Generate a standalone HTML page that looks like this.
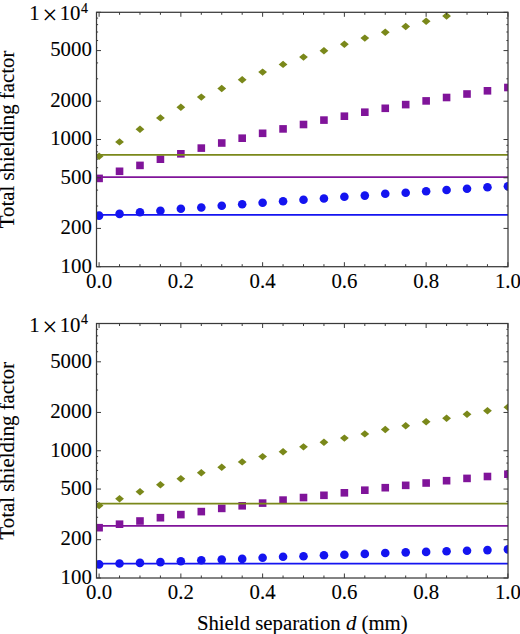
<!DOCTYPE html>
<html><head><meta charset="utf-8"><style>
html,body{margin:0;padding:0;background:#fff;overflow:hidden;width:520px;height:634px;}
svg{display:block;}
.t{font-family:"Liberation Serif",serif;font-size:20.8px;fill:#000;stroke:#000;stroke-width:0.1px;}
.sup{font-family:"Liberation Serif",serif;font-size:13.8px;fill:#000;stroke:#000;stroke-width:0.2px;}
</style></head><body>
<svg width="520" height="634" viewBox="0 0 520 634">
<rect width="520" height="634" fill="#fff"/>
<clipPath id="clip0"><rect x="96.5" y="12.3" width="411.5" height="254.39999999999998"/></clipPath>
<g clip-path="url(#clip0)">
<path d="M94.70 156.30L99.10 152.60L103.50 156.30L99.10 160.00Z" fill="#7a881a"/>
<path d="M115.14 141.90L119.54 138.20L123.94 141.90L119.54 145.60Z" fill="#7a881a"/>
<path d="M135.58 129.20L139.98 125.50L144.38 129.20L139.98 132.90Z" fill="#7a881a"/>
<path d="M156.02 117.90L160.42 114.20L164.82 117.90L160.42 121.60Z" fill="#7a881a"/>
<path d="M176.46 107.20L180.86 103.50L185.26 107.20L180.86 110.90Z" fill="#7a881a"/>
<path d="M196.90 97.10L201.30 93.40L205.70 97.10L201.30 100.80Z" fill="#7a881a"/>
<path d="M217.34 88.50L221.74 84.80L226.14 88.50L221.74 92.20Z" fill="#7a881a"/>
<path d="M237.78 79.80L242.18 76.10L246.58 79.80L242.18 83.50Z" fill="#7a881a"/>
<path d="M258.22 72.10L262.62 68.40L267.02 72.10L262.62 75.80Z" fill="#7a881a"/>
<path d="M278.66 64.40L283.06 60.70L287.46 64.40L283.06 68.10Z" fill="#7a881a"/>
<path d="M299.10 57.10L303.50 53.40L307.90 57.10L303.50 60.80Z" fill="#7a881a"/>
<path d="M319.54 50.80L323.94 47.10L328.34 50.80L323.94 54.50Z" fill="#7a881a"/>
<path d="M339.98 44.20L344.38 40.50L348.78 44.20L344.38 47.90Z" fill="#7a881a"/>
<path d="M360.42 38.10L364.82 34.40L369.22 38.10L364.82 41.80Z" fill="#7a881a"/>
<path d="M380.86 32.30L385.26 28.60L389.66 32.30L385.26 36.00Z" fill="#7a881a"/>
<path d="M401.30 26.50L405.70 22.80L410.10 26.50L405.70 30.20Z" fill="#7a881a"/>
<path d="M421.74 21.30L426.14 17.60L430.54 21.30L426.14 25.00Z" fill="#7a881a"/>
<path d="M442.18 16.00L446.58 12.30L450.98 16.00L446.58 19.70Z" fill="#7a881a"/>
<path d="M462.62 9.00L467.02 5.30L471.42 9.00L467.02 12.70Z" fill="#7a881a"/>
<path d="M483.06 4.00L487.46 0.30L491.86 4.00L487.46 7.70Z" fill="#7a881a"/>
<path d="M503.50 0.00L507.90 -3.70L512.30 0.00L507.90 3.70Z" fill="#7a881a"/>
<rect x="95.30" y="174.60" width="7.6" height="7.6" fill="#80149a"/>
<rect x="115.74" y="167.50" width="7.6" height="7.6" fill="#80149a"/>
<rect x="136.18" y="161.60" width="7.6" height="7.6" fill="#80149a"/>
<rect x="156.62" y="155.40" width="7.6" height="7.6" fill="#80149a"/>
<rect x="177.06" y="150.00" width="7.6" height="7.6" fill="#80149a"/>
<rect x="197.50" y="144.30" width="7.6" height="7.6" fill="#80149a"/>
<rect x="217.94" y="139.20" width="7.6" height="7.6" fill="#80149a"/>
<rect x="238.38" y="134.40" width="7.6" height="7.6" fill="#80149a"/>
<rect x="258.82" y="129.50" width="7.6" height="7.6" fill="#80149a"/>
<rect x="279.26" y="125.10" width="7.6" height="7.6" fill="#80149a"/>
<rect x="299.70" y="120.70" width="7.6" height="7.6" fill="#80149a"/>
<rect x="320.14" y="116.30" width="7.6" height="7.6" fill="#80149a"/>
<rect x="340.58" y="112.40" width="7.6" height="7.6" fill="#80149a"/>
<rect x="361.02" y="108.40" width="7.6" height="7.6" fill="#80149a"/>
<rect x="381.46" y="104.50" width="7.6" height="7.6" fill="#80149a"/>
<rect x="401.90" y="100.80" width="7.6" height="7.6" fill="#80149a"/>
<rect x="422.34" y="97.10" width="7.6" height="7.6" fill="#80149a"/>
<rect x="442.78" y="93.70" width="7.6" height="7.6" fill="#80149a"/>
<rect x="463.22" y="90.20" width="7.6" height="7.6" fill="#80149a"/>
<rect x="483.66" y="87.00" width="7.6" height="7.6" fill="#80149a"/>
<rect x="504.10" y="83.70" width="7.6" height="7.6" fill="#80149a"/>
<circle cx="99.10" cy="215.60" r="4.3" fill="#1414f0"/>
<circle cx="119.54" cy="213.90" r="4.3" fill="#1414f0"/>
<circle cx="139.98" cy="212.30" r="4.3" fill="#1414f0"/>
<circle cx="160.42" cy="210.80" r="4.3" fill="#1414f0"/>
<circle cx="180.86" cy="208.80" r="4.3" fill="#1414f0"/>
<circle cx="201.30" cy="207.50" r="4.3" fill="#1414f0"/>
<circle cx="221.74" cy="205.80" r="4.3" fill="#1414f0"/>
<circle cx="242.18" cy="204.20" r="4.3" fill="#1414f0"/>
<circle cx="262.62" cy="202.70" r="4.3" fill="#1414f0"/>
<circle cx="283.06" cy="201.30" r="4.3" fill="#1414f0"/>
<circle cx="303.50" cy="199.80" r="4.3" fill="#1414f0"/>
<circle cx="323.94" cy="198.50" r="4.3" fill="#1414f0"/>
<circle cx="344.38" cy="196.70" r="4.3" fill="#1414f0"/>
<circle cx="364.82" cy="195.60" r="4.3" fill="#1414f0"/>
<circle cx="385.26" cy="193.80" r="4.3" fill="#1414f0"/>
<circle cx="405.70" cy="192.70" r="4.3" fill="#1414f0"/>
<circle cx="426.14" cy="191.30" r="4.3" fill="#1414f0"/>
<circle cx="446.58" cy="190.00" r="4.3" fill="#1414f0"/>
<circle cx="467.02" cy="188.70" r="4.3" fill="#1414f0"/>
<circle cx="487.46" cy="187.30" r="4.3" fill="#1414f0"/>
<circle cx="507.90" cy="186.30" r="4.3" fill="#1414f0"/>
<line x1="96.5" x2="508.0" y1="154.9" y2="154.9" stroke="#7a881a" stroke-width="1.75"/>
<line x1="96.5" x2="508.0" y1="177.0" y2="177.0" stroke="#80149a" stroke-width="1.75"/>
<line x1="96.5" x2="508.0" y1="214.9" y2="214.9" stroke="#1414f0" stroke-width="1.75"/>
</g>
<rect x="96.5" y="12.3" width="411.5" height="254.39999999999998" fill="none" stroke="#3a3a3a" stroke-width="1.25"/>
<line x1="99.10" x2="99.10" y1="266.7" y2="262.2" stroke="#3a3a3a" stroke-width="1"/>
<line x1="99.10" x2="99.10" y1="12.3" y2="16.8" stroke="#3a3a3a" stroke-width="1"/>
<line x1="119.54" x2="119.54" y1="266.7" y2="264.2" stroke="#3a3a3a" stroke-width="1"/>
<line x1="119.54" x2="119.54" y1="12.3" y2="14.8" stroke="#3a3a3a" stroke-width="1"/>
<line x1="139.98" x2="139.98" y1="266.7" y2="264.2" stroke="#3a3a3a" stroke-width="1"/>
<line x1="139.98" x2="139.98" y1="12.3" y2="14.8" stroke="#3a3a3a" stroke-width="1"/>
<line x1="160.42" x2="160.42" y1="266.7" y2="264.2" stroke="#3a3a3a" stroke-width="1"/>
<line x1="160.42" x2="160.42" y1="12.3" y2="14.8" stroke="#3a3a3a" stroke-width="1"/>
<line x1="180.86" x2="180.86" y1="266.7" y2="262.2" stroke="#3a3a3a" stroke-width="1"/>
<line x1="180.86" x2="180.86" y1="12.3" y2="16.8" stroke="#3a3a3a" stroke-width="1"/>
<line x1="201.30" x2="201.30" y1="266.7" y2="264.2" stroke="#3a3a3a" stroke-width="1"/>
<line x1="201.30" x2="201.30" y1="12.3" y2="14.8" stroke="#3a3a3a" stroke-width="1"/>
<line x1="221.74" x2="221.74" y1="266.7" y2="264.2" stroke="#3a3a3a" stroke-width="1"/>
<line x1="221.74" x2="221.74" y1="12.3" y2="14.8" stroke="#3a3a3a" stroke-width="1"/>
<line x1="242.18" x2="242.18" y1="266.7" y2="264.2" stroke="#3a3a3a" stroke-width="1"/>
<line x1="242.18" x2="242.18" y1="12.3" y2="14.8" stroke="#3a3a3a" stroke-width="1"/>
<line x1="262.62" x2="262.62" y1="266.7" y2="262.2" stroke="#3a3a3a" stroke-width="1"/>
<line x1="262.62" x2="262.62" y1="12.3" y2="16.8" stroke="#3a3a3a" stroke-width="1"/>
<line x1="283.06" x2="283.06" y1="266.7" y2="264.2" stroke="#3a3a3a" stroke-width="1"/>
<line x1="283.06" x2="283.06" y1="12.3" y2="14.8" stroke="#3a3a3a" stroke-width="1"/>
<line x1="303.50" x2="303.50" y1="266.7" y2="264.2" stroke="#3a3a3a" stroke-width="1"/>
<line x1="303.50" x2="303.50" y1="12.3" y2="14.8" stroke="#3a3a3a" stroke-width="1"/>
<line x1="323.94" x2="323.94" y1="266.7" y2="264.2" stroke="#3a3a3a" stroke-width="1"/>
<line x1="323.94" x2="323.94" y1="12.3" y2="14.8" stroke="#3a3a3a" stroke-width="1"/>
<line x1="344.38" x2="344.38" y1="266.7" y2="262.2" stroke="#3a3a3a" stroke-width="1"/>
<line x1="344.38" x2="344.38" y1="12.3" y2="16.8" stroke="#3a3a3a" stroke-width="1"/>
<line x1="364.82" x2="364.82" y1="266.7" y2="264.2" stroke="#3a3a3a" stroke-width="1"/>
<line x1="364.82" x2="364.82" y1="12.3" y2="14.8" stroke="#3a3a3a" stroke-width="1"/>
<line x1="385.26" x2="385.26" y1="266.7" y2="264.2" stroke="#3a3a3a" stroke-width="1"/>
<line x1="385.26" x2="385.26" y1="12.3" y2="14.8" stroke="#3a3a3a" stroke-width="1"/>
<line x1="405.70" x2="405.70" y1="266.7" y2="264.2" stroke="#3a3a3a" stroke-width="1"/>
<line x1="405.70" x2="405.70" y1="12.3" y2="14.8" stroke="#3a3a3a" stroke-width="1"/>
<line x1="426.14" x2="426.14" y1="266.7" y2="262.2" stroke="#3a3a3a" stroke-width="1"/>
<line x1="426.14" x2="426.14" y1="12.3" y2="16.8" stroke="#3a3a3a" stroke-width="1"/>
<line x1="446.58" x2="446.58" y1="266.7" y2="264.2" stroke="#3a3a3a" stroke-width="1"/>
<line x1="446.58" x2="446.58" y1="12.3" y2="14.8" stroke="#3a3a3a" stroke-width="1"/>
<line x1="467.02" x2="467.02" y1="266.7" y2="264.2" stroke="#3a3a3a" stroke-width="1"/>
<line x1="467.02" x2="467.02" y1="12.3" y2="14.8" stroke="#3a3a3a" stroke-width="1"/>
<line x1="487.46" x2="487.46" y1="266.7" y2="264.2" stroke="#3a3a3a" stroke-width="1"/>
<line x1="487.46" x2="487.46" y1="12.3" y2="14.8" stroke="#3a3a3a" stroke-width="1"/>
<line x1="507.90" x2="507.90" y1="266.7" y2="262.2" stroke="#3a3a3a" stroke-width="1"/>
<line x1="507.90" x2="507.90" y1="12.3" y2="16.8" stroke="#3a3a3a" stroke-width="1"/>
<line x1="96.5" x2="101.0" y1="266.70" y2="266.70" stroke="#3a3a3a" stroke-width="1"/>
<line x1="508.0" x2="503.5" y1="266.70" y2="266.70" stroke="#3a3a3a" stroke-width="1"/>
<line x1="96.5" x2="101.0" y1="228.41" y2="228.41" stroke="#3a3a3a" stroke-width="1"/>
<line x1="508.0" x2="503.5" y1="228.41" y2="228.41" stroke="#3a3a3a" stroke-width="1"/>
<line x1="96.5" x2="101.0" y1="177.79" y2="177.79" stroke="#3a3a3a" stroke-width="1"/>
<line x1="508.0" x2="503.5" y1="177.79" y2="177.79" stroke="#3a3a3a" stroke-width="1"/>
<line x1="96.5" x2="101.0" y1="139.50" y2="139.50" stroke="#3a3a3a" stroke-width="1"/>
<line x1="508.0" x2="503.5" y1="139.50" y2="139.50" stroke="#3a3a3a" stroke-width="1"/>
<line x1="96.5" x2="101.0" y1="101.21" y2="101.21" stroke="#3a3a3a" stroke-width="1"/>
<line x1="508.0" x2="503.5" y1="101.21" y2="101.21" stroke="#3a3a3a" stroke-width="1"/>
<line x1="96.5" x2="101.0" y1="50.59" y2="50.59" stroke="#3a3a3a" stroke-width="1"/>
<line x1="508.0" x2="503.5" y1="50.59" y2="50.59" stroke="#3a3a3a" stroke-width="1"/>
<line x1="96.5" x2="101.0" y1="12.30" y2="12.30" stroke="#3a3a3a" stroke-width="1"/>
<line x1="508.0" x2="503.5" y1="12.30" y2="12.30" stroke="#3a3a3a" stroke-width="1"/>
<line x1="96.5" x2="98.1" y1="206.01" y2="206.01" stroke="#3a3a3a" stroke-width="1"/>
<line x1="508.0" x2="506.4" y1="206.01" y2="206.01" stroke="#3a3a3a" stroke-width="1"/>
<line x1="96.5" x2="98.1" y1="190.12" y2="190.12" stroke="#3a3a3a" stroke-width="1"/>
<line x1="508.0" x2="506.4" y1="190.12" y2="190.12" stroke="#3a3a3a" stroke-width="1"/>
<line x1="96.5" x2="98.1" y1="167.72" y2="167.72" stroke="#3a3a3a" stroke-width="1"/>
<line x1="508.0" x2="506.4" y1="167.72" y2="167.72" stroke="#3a3a3a" stroke-width="1"/>
<line x1="96.5" x2="98.1" y1="159.20" y2="159.20" stroke="#3a3a3a" stroke-width="1"/>
<line x1="508.0" x2="506.4" y1="159.20" y2="159.20" stroke="#3a3a3a" stroke-width="1"/>
<line x1="96.5" x2="98.1" y1="151.83" y2="151.83" stroke="#3a3a3a" stroke-width="1"/>
<line x1="508.0" x2="506.4" y1="151.83" y2="151.83" stroke="#3a3a3a" stroke-width="1"/>
<line x1="96.5" x2="98.1" y1="145.32" y2="145.32" stroke="#3a3a3a" stroke-width="1"/>
<line x1="508.0" x2="506.4" y1="145.32" y2="145.32" stroke="#3a3a3a" stroke-width="1"/>
<line x1="96.5" x2="98.1" y1="78.81" y2="78.81" stroke="#3a3a3a" stroke-width="1"/>
<line x1="508.0" x2="506.4" y1="78.81" y2="78.81" stroke="#3a3a3a" stroke-width="1"/>
<line x1="96.5" x2="98.1" y1="62.92" y2="62.92" stroke="#3a3a3a" stroke-width="1"/>
<line x1="508.0" x2="506.4" y1="62.92" y2="62.92" stroke="#3a3a3a" stroke-width="1"/>
<line x1="96.5" x2="98.1" y1="40.52" y2="40.52" stroke="#3a3a3a" stroke-width="1"/>
<line x1="508.0" x2="506.4" y1="40.52" y2="40.52" stroke="#3a3a3a" stroke-width="1"/>
<line x1="96.5" x2="98.1" y1="32.00" y2="32.00" stroke="#3a3a3a" stroke-width="1"/>
<line x1="508.0" x2="506.4" y1="32.00" y2="32.00" stroke="#3a3a3a" stroke-width="1"/>
<line x1="96.5" x2="98.1" y1="24.63" y2="24.63" stroke="#3a3a3a" stroke-width="1"/>
<line x1="508.0" x2="506.4" y1="24.63" y2="24.63" stroke="#3a3a3a" stroke-width="1"/>
<line x1="96.5" x2="98.1" y1="18.12" y2="18.12" stroke="#3a3a3a" stroke-width="1"/>
<line x1="508.0" x2="506.4" y1="18.12" y2="18.12" stroke="#3a3a3a" stroke-width="1"/>
<text x="91.8" y="272.50" text-anchor="end" class="t">100</text>
<text x="91.8" y="234.21" text-anchor="end" class="t">200</text>
<text x="91.8" y="183.59" text-anchor="end" class="t">500</text>
<text x="91.8" y="145.30" text-anchor="end" class="t">1000</text>
<text x="91.8" y="107.01" text-anchor="end" class="t">2000</text>
<text x="91.8" y="56.39" text-anchor="end" class="t">5000</text>
<text x="34.5" y="20.40" text-anchor="middle" class="t">1</text>
<text x="49.9" y="24.30" text-anchor="middle" class="t" style="font-size:27px;stroke-width:0">×</text>
<text x="80.5" y="20.40" text-anchor="end" class="t">10</text>
<text x="81.0" y="12.90" class="sup">4</text>
<text x="99.10" y="287.70" text-anchor="middle" class="t">0.0</text>
<text x="180.86" y="287.70" text-anchor="middle" class="t">0.2</text>
<text x="262.62" y="287.70" text-anchor="middle" class="t">0.4</text>
<text x="344.38" y="287.70" text-anchor="middle" class="t">0.6</text>
<text x="426.14" y="287.70" text-anchor="middle" class="t">0.8</text>
<text x="507.90" y="287.70" text-anchor="middle" class="t">1.0</text>
<text transform="translate(13.6 139.45) rotate(-90)" text-anchor="middle" class="t">Total shielding factor</text>
<clipPath id="clip1"><rect x="96.5" y="323.5" width="411.5" height="254.5"/></clipPath>
<g clip-path="url(#clip1)">
<path d="M94.70 505.60L99.10 501.90L103.50 505.60L99.10 509.30Z" fill="#7a881a"/>
<path d="M115.14 498.80L119.54 495.10L123.94 498.80L119.54 502.50Z" fill="#7a881a"/>
<path d="M135.58 491.70L139.98 488.00L144.38 491.70L139.98 495.40Z" fill="#7a881a"/>
<path d="M156.02 484.80L160.42 481.10L164.82 484.80L160.42 488.50Z" fill="#7a881a"/>
<path d="M176.46 478.70L180.86 475.00L185.26 478.70L180.86 482.40Z" fill="#7a881a"/>
<path d="M196.90 472.80L201.30 469.10L205.70 472.80L201.30 476.50Z" fill="#7a881a"/>
<path d="M217.34 467.20L221.74 463.50L226.14 467.20L221.74 470.90Z" fill="#7a881a"/>
<path d="M237.78 461.90L242.18 458.20L246.58 461.90L242.18 465.60Z" fill="#7a881a"/>
<path d="M258.22 456.60L262.62 452.90L267.02 456.60L262.62 460.30Z" fill="#7a881a"/>
<path d="M278.66 451.80L283.06 448.10L287.46 451.80L283.06 455.50Z" fill="#7a881a"/>
<path d="M299.10 446.85L303.50 443.15L307.90 446.85L303.50 450.55Z" fill="#7a881a"/>
<path d="M319.54 442.20L323.94 438.50L328.34 442.20L323.94 445.90Z" fill="#7a881a"/>
<path d="M339.98 438.10L344.38 434.40L348.78 438.10L344.38 441.80Z" fill="#7a881a"/>
<path d="M360.42 433.90L364.82 430.20L369.22 433.90L364.82 437.60Z" fill="#7a881a"/>
<path d="M380.86 429.50L385.26 425.80L389.66 429.50L385.26 433.20Z" fill="#7a881a"/>
<path d="M401.30 425.80L405.70 422.10L410.10 425.80L405.70 429.50Z" fill="#7a881a"/>
<path d="M421.74 421.80L426.14 418.10L430.54 421.80L426.14 425.50Z" fill="#7a881a"/>
<path d="M442.18 418.20L446.58 414.50L450.98 418.20L446.58 421.90Z" fill="#7a881a"/>
<path d="M462.62 414.20L467.02 410.50L471.42 414.20L467.02 417.90Z" fill="#7a881a"/>
<path d="M483.06 410.80L487.46 407.10L491.86 410.80L487.46 414.50Z" fill="#7a881a"/>
<path d="M503.50 407.30L507.90 403.60L512.30 407.30L507.90 411.00Z" fill="#7a881a"/>
<rect x="95.30" y="523.90" width="7.6" height="7.6" fill="#80149a"/>
<rect x="115.74" y="520.40" width="7.6" height="7.6" fill="#80149a"/>
<rect x="136.18" y="517.20" width="7.6" height="7.6" fill="#80149a"/>
<rect x="156.62" y="513.90" width="7.6" height="7.6" fill="#80149a"/>
<rect x="177.06" y="510.80" width="7.6" height="7.6" fill="#80149a"/>
<rect x="197.50" y="507.80" width="7.6" height="7.6" fill="#80149a"/>
<rect x="217.94" y="504.60" width="7.6" height="7.6" fill="#80149a"/>
<rect x="238.38" y="502.00" width="7.6" height="7.6" fill="#80149a"/>
<rect x="258.82" y="499.30" width="7.6" height="7.6" fill="#80149a"/>
<rect x="279.26" y="496.30" width="7.6" height="7.6" fill="#80149a"/>
<rect x="299.70" y="493.75" width="7.6" height="7.6" fill="#80149a"/>
<rect x="320.14" y="491.50" width="7.6" height="7.6" fill="#80149a"/>
<rect x="340.58" y="489.00" width="7.6" height="7.6" fill="#80149a"/>
<rect x="361.02" y="486.40" width="7.6" height="7.6" fill="#80149a"/>
<rect x="381.46" y="483.90" width="7.6" height="7.6" fill="#80149a"/>
<rect x="401.90" y="481.55" width="7.6" height="7.6" fill="#80149a"/>
<rect x="422.34" y="479.20" width="7.6" height="7.6" fill="#80149a"/>
<rect x="442.78" y="476.90" width="7.6" height="7.6" fill="#80149a"/>
<rect x="463.22" y="474.60" width="7.6" height="7.6" fill="#80149a"/>
<rect x="483.66" y="472.70" width="7.6" height="7.6" fill="#80149a"/>
<rect x="504.10" y="470.40" width="7.6" height="7.6" fill="#80149a"/>
<circle cx="99.10" cy="564.40" r="4.3" fill="#1414f0"/>
<circle cx="119.54" cy="563.50" r="4.3" fill="#1414f0"/>
<circle cx="139.98" cy="562.90" r="4.3" fill="#1414f0"/>
<circle cx="160.42" cy="562.10" r="4.3" fill="#1414f0"/>
<circle cx="180.86" cy="561.20" r="4.3" fill="#1414f0"/>
<circle cx="201.30" cy="560.30" r="4.3" fill="#1414f0"/>
<circle cx="221.74" cy="559.60" r="4.3" fill="#1414f0"/>
<circle cx="242.18" cy="558.90" r="4.3" fill="#1414f0"/>
<circle cx="262.62" cy="557.80" r="4.3" fill="#1414f0"/>
<circle cx="283.06" cy="556.80" r="4.3" fill="#1414f0"/>
<circle cx="303.50" cy="556.20" r="4.3" fill="#1414f0"/>
<circle cx="323.94" cy="555.30" r="4.3" fill="#1414f0"/>
<circle cx="344.38" cy="554.80" r="4.3" fill="#1414f0"/>
<circle cx="364.82" cy="553.90" r="4.3" fill="#1414f0"/>
<circle cx="385.26" cy="553.00" r="4.3" fill="#1414f0"/>
<circle cx="405.70" cy="552.35" r="4.3" fill="#1414f0"/>
<circle cx="426.14" cy="551.90" r="4.3" fill="#1414f0"/>
<circle cx="446.58" cy="551.20" r="4.3" fill="#1414f0"/>
<circle cx="467.02" cy="550.80" r="4.3" fill="#1414f0"/>
<circle cx="487.46" cy="550.10" r="4.3" fill="#1414f0"/>
<circle cx="507.90" cy="549.40" r="4.3" fill="#1414f0"/>
<line x1="96.5" x2="508.0" y1="503.7" y2="503.7" stroke="#7a881a" stroke-width="1.75"/>
<line x1="96.5" x2="508.0" y1="525.8" y2="525.8" stroke="#80149a" stroke-width="1.75"/>
<line x1="96.5" x2="508.0" y1="563.6" y2="563.6" stroke="#1414f0" stroke-width="1.75"/>
</g>
<rect x="96.5" y="323.5" width="411.5" height="254.5" fill="none" stroke="#3a3a3a" stroke-width="1.25"/>
<line x1="99.10" x2="99.10" y1="578.0" y2="573.5" stroke="#3a3a3a" stroke-width="1"/>
<line x1="99.10" x2="99.10" y1="323.5" y2="328.0" stroke="#3a3a3a" stroke-width="1"/>
<line x1="119.54" x2="119.54" y1="578.0" y2="575.5" stroke="#3a3a3a" stroke-width="1"/>
<line x1="119.54" x2="119.54" y1="323.5" y2="326.0" stroke="#3a3a3a" stroke-width="1"/>
<line x1="139.98" x2="139.98" y1="578.0" y2="575.5" stroke="#3a3a3a" stroke-width="1"/>
<line x1="139.98" x2="139.98" y1="323.5" y2="326.0" stroke="#3a3a3a" stroke-width="1"/>
<line x1="160.42" x2="160.42" y1="578.0" y2="575.5" stroke="#3a3a3a" stroke-width="1"/>
<line x1="160.42" x2="160.42" y1="323.5" y2="326.0" stroke="#3a3a3a" stroke-width="1"/>
<line x1="180.86" x2="180.86" y1="578.0" y2="573.5" stroke="#3a3a3a" stroke-width="1"/>
<line x1="180.86" x2="180.86" y1="323.5" y2="328.0" stroke="#3a3a3a" stroke-width="1"/>
<line x1="201.30" x2="201.30" y1="578.0" y2="575.5" stroke="#3a3a3a" stroke-width="1"/>
<line x1="201.30" x2="201.30" y1="323.5" y2="326.0" stroke="#3a3a3a" stroke-width="1"/>
<line x1="221.74" x2="221.74" y1="578.0" y2="575.5" stroke="#3a3a3a" stroke-width="1"/>
<line x1="221.74" x2="221.74" y1="323.5" y2="326.0" stroke="#3a3a3a" stroke-width="1"/>
<line x1="242.18" x2="242.18" y1="578.0" y2="575.5" stroke="#3a3a3a" stroke-width="1"/>
<line x1="242.18" x2="242.18" y1="323.5" y2="326.0" stroke="#3a3a3a" stroke-width="1"/>
<line x1="262.62" x2="262.62" y1="578.0" y2="573.5" stroke="#3a3a3a" stroke-width="1"/>
<line x1="262.62" x2="262.62" y1="323.5" y2="328.0" stroke="#3a3a3a" stroke-width="1"/>
<line x1="283.06" x2="283.06" y1="578.0" y2="575.5" stroke="#3a3a3a" stroke-width="1"/>
<line x1="283.06" x2="283.06" y1="323.5" y2="326.0" stroke="#3a3a3a" stroke-width="1"/>
<line x1="303.50" x2="303.50" y1="578.0" y2="575.5" stroke="#3a3a3a" stroke-width="1"/>
<line x1="303.50" x2="303.50" y1="323.5" y2="326.0" stroke="#3a3a3a" stroke-width="1"/>
<line x1="323.94" x2="323.94" y1="578.0" y2="575.5" stroke="#3a3a3a" stroke-width="1"/>
<line x1="323.94" x2="323.94" y1="323.5" y2="326.0" stroke="#3a3a3a" stroke-width="1"/>
<line x1="344.38" x2="344.38" y1="578.0" y2="573.5" stroke="#3a3a3a" stroke-width="1"/>
<line x1="344.38" x2="344.38" y1="323.5" y2="328.0" stroke="#3a3a3a" stroke-width="1"/>
<line x1="364.82" x2="364.82" y1="578.0" y2="575.5" stroke="#3a3a3a" stroke-width="1"/>
<line x1="364.82" x2="364.82" y1="323.5" y2="326.0" stroke="#3a3a3a" stroke-width="1"/>
<line x1="385.26" x2="385.26" y1="578.0" y2="575.5" stroke="#3a3a3a" stroke-width="1"/>
<line x1="385.26" x2="385.26" y1="323.5" y2="326.0" stroke="#3a3a3a" stroke-width="1"/>
<line x1="405.70" x2="405.70" y1="578.0" y2="575.5" stroke="#3a3a3a" stroke-width="1"/>
<line x1="405.70" x2="405.70" y1="323.5" y2="326.0" stroke="#3a3a3a" stroke-width="1"/>
<line x1="426.14" x2="426.14" y1="578.0" y2="573.5" stroke="#3a3a3a" stroke-width="1"/>
<line x1="426.14" x2="426.14" y1="323.5" y2="328.0" stroke="#3a3a3a" stroke-width="1"/>
<line x1="446.58" x2="446.58" y1="578.0" y2="575.5" stroke="#3a3a3a" stroke-width="1"/>
<line x1="446.58" x2="446.58" y1="323.5" y2="326.0" stroke="#3a3a3a" stroke-width="1"/>
<line x1="467.02" x2="467.02" y1="578.0" y2="575.5" stroke="#3a3a3a" stroke-width="1"/>
<line x1="467.02" x2="467.02" y1="323.5" y2="326.0" stroke="#3a3a3a" stroke-width="1"/>
<line x1="487.46" x2="487.46" y1="578.0" y2="575.5" stroke="#3a3a3a" stroke-width="1"/>
<line x1="487.46" x2="487.46" y1="323.5" y2="326.0" stroke="#3a3a3a" stroke-width="1"/>
<line x1="507.90" x2="507.90" y1="578.0" y2="573.5" stroke="#3a3a3a" stroke-width="1"/>
<line x1="507.90" x2="507.90" y1="323.5" y2="328.0" stroke="#3a3a3a" stroke-width="1"/>
<line x1="96.5" x2="101.0" y1="578.00" y2="578.00" stroke="#3a3a3a" stroke-width="1"/>
<line x1="508.0" x2="503.5" y1="578.00" y2="578.00" stroke="#3a3a3a" stroke-width="1"/>
<line x1="96.5" x2="101.0" y1="539.69" y2="539.69" stroke="#3a3a3a" stroke-width="1"/>
<line x1="508.0" x2="503.5" y1="539.69" y2="539.69" stroke="#3a3a3a" stroke-width="1"/>
<line x1="96.5" x2="101.0" y1="489.06" y2="489.06" stroke="#3a3a3a" stroke-width="1"/>
<line x1="508.0" x2="503.5" y1="489.06" y2="489.06" stroke="#3a3a3a" stroke-width="1"/>
<line x1="96.5" x2="101.0" y1="450.75" y2="450.75" stroke="#3a3a3a" stroke-width="1"/>
<line x1="508.0" x2="503.5" y1="450.75" y2="450.75" stroke="#3a3a3a" stroke-width="1"/>
<line x1="96.5" x2="101.0" y1="412.44" y2="412.44" stroke="#3a3a3a" stroke-width="1"/>
<line x1="508.0" x2="503.5" y1="412.44" y2="412.44" stroke="#3a3a3a" stroke-width="1"/>
<line x1="96.5" x2="101.0" y1="361.81" y2="361.81" stroke="#3a3a3a" stroke-width="1"/>
<line x1="508.0" x2="503.5" y1="361.81" y2="361.81" stroke="#3a3a3a" stroke-width="1"/>
<line x1="96.5" x2="101.0" y1="323.50" y2="323.50" stroke="#3a3a3a" stroke-width="1"/>
<line x1="508.0" x2="503.5" y1="323.50" y2="323.50" stroke="#3a3a3a" stroke-width="1"/>
<line x1="96.5" x2="98.1" y1="517.29" y2="517.29" stroke="#3a3a3a" stroke-width="1"/>
<line x1="508.0" x2="506.4" y1="517.29" y2="517.29" stroke="#3a3a3a" stroke-width="1"/>
<line x1="96.5" x2="98.1" y1="501.39" y2="501.39" stroke="#3a3a3a" stroke-width="1"/>
<line x1="508.0" x2="506.4" y1="501.39" y2="501.39" stroke="#3a3a3a" stroke-width="1"/>
<line x1="96.5" x2="98.1" y1="478.98" y2="478.98" stroke="#3a3a3a" stroke-width="1"/>
<line x1="508.0" x2="506.4" y1="478.98" y2="478.98" stroke="#3a3a3a" stroke-width="1"/>
<line x1="96.5" x2="98.1" y1="470.46" y2="470.46" stroke="#3a3a3a" stroke-width="1"/>
<line x1="508.0" x2="506.4" y1="470.46" y2="470.46" stroke="#3a3a3a" stroke-width="1"/>
<line x1="96.5" x2="98.1" y1="463.08" y2="463.08" stroke="#3a3a3a" stroke-width="1"/>
<line x1="508.0" x2="506.4" y1="463.08" y2="463.08" stroke="#3a3a3a" stroke-width="1"/>
<line x1="96.5" x2="98.1" y1="456.57" y2="456.57" stroke="#3a3a3a" stroke-width="1"/>
<line x1="508.0" x2="506.4" y1="456.57" y2="456.57" stroke="#3a3a3a" stroke-width="1"/>
<line x1="96.5" x2="98.1" y1="390.04" y2="390.04" stroke="#3a3a3a" stroke-width="1"/>
<line x1="508.0" x2="506.4" y1="390.04" y2="390.04" stroke="#3a3a3a" stroke-width="1"/>
<line x1="96.5" x2="98.1" y1="374.14" y2="374.14" stroke="#3a3a3a" stroke-width="1"/>
<line x1="508.0" x2="506.4" y1="374.14" y2="374.14" stroke="#3a3a3a" stroke-width="1"/>
<line x1="96.5" x2="98.1" y1="351.73" y2="351.73" stroke="#3a3a3a" stroke-width="1"/>
<line x1="508.0" x2="506.4" y1="351.73" y2="351.73" stroke="#3a3a3a" stroke-width="1"/>
<line x1="96.5" x2="98.1" y1="343.21" y2="343.21" stroke="#3a3a3a" stroke-width="1"/>
<line x1="508.0" x2="506.4" y1="343.21" y2="343.21" stroke="#3a3a3a" stroke-width="1"/>
<line x1="96.5" x2="98.1" y1="335.83" y2="335.83" stroke="#3a3a3a" stroke-width="1"/>
<line x1="508.0" x2="506.4" y1="335.83" y2="335.83" stroke="#3a3a3a" stroke-width="1"/>
<line x1="96.5" x2="98.1" y1="329.32" y2="329.32" stroke="#3a3a3a" stroke-width="1"/>
<line x1="508.0" x2="506.4" y1="329.32" y2="329.32" stroke="#3a3a3a" stroke-width="1"/>
<text x="91.8" y="583.80" text-anchor="end" class="t">100</text>
<text x="91.8" y="545.49" text-anchor="end" class="t">200</text>
<text x="91.8" y="494.86" text-anchor="end" class="t">500</text>
<text x="91.8" y="456.55" text-anchor="end" class="t">1000</text>
<text x="91.8" y="418.24" text-anchor="end" class="t">2000</text>
<text x="91.8" y="367.61" text-anchor="end" class="t">5000</text>
<text x="34.5" y="331.60" text-anchor="middle" class="t">1</text>
<text x="49.9" y="335.50" text-anchor="middle" class="t" style="font-size:27px;stroke-width:0">×</text>
<text x="80.5" y="331.60" text-anchor="end" class="t">10</text>
<text x="81.0" y="324.10" class="sup">4</text>
<text x="99.10" y="599.00" text-anchor="middle" class="t">0.0</text>
<text x="180.86" y="599.00" text-anchor="middle" class="t">0.2</text>
<text x="262.62" y="599.00" text-anchor="middle" class="t">0.4</text>
<text x="344.38" y="599.00" text-anchor="middle" class="t">0.6</text>
<text x="426.14" y="599.00" text-anchor="middle" class="t">0.8</text>
<text x="507.90" y="599.00" text-anchor="middle" class="t">1.0</text>
<text transform="translate(13.6 450.65) rotate(-90)" text-anchor="middle" class="t">Total shielding factor</text>
<text x="302.3" y="629.5" text-anchor="middle" class="t">Shield separation <tspan font-style="italic">d</tspan> (mm)</text>
</svg></body></html>
